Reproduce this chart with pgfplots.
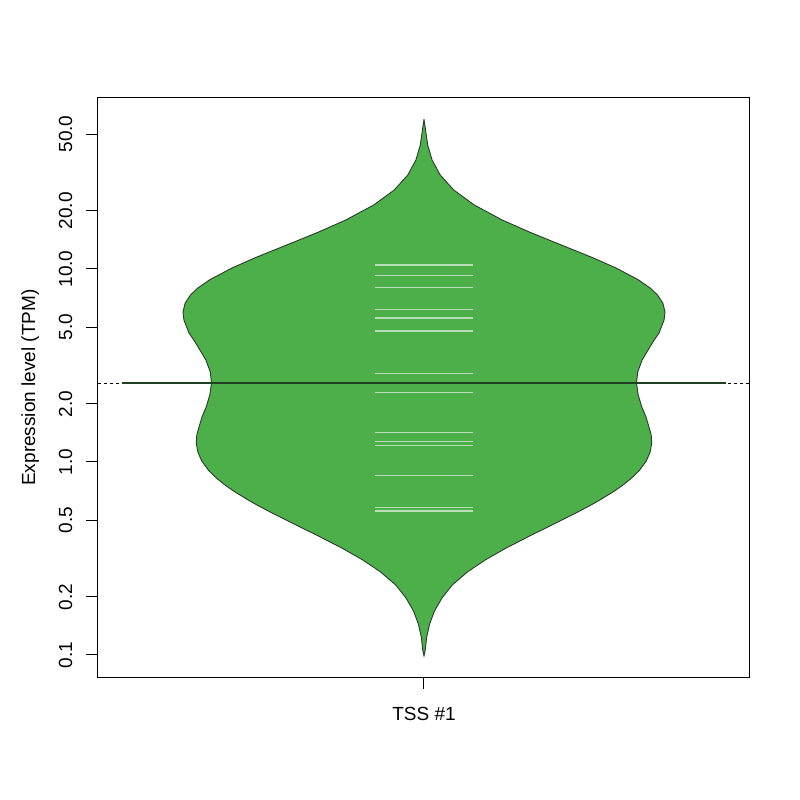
\documentclass[border=0pt]{standalone}
\usepackage{fontspec}
\setmainfont{Liberation Sans}
\usepackage{pgfplots}
\usepackage{pgfplotstable}
\pgfplotsset{compat=1.18}

\definecolor{beangreen}{RGB}{77,175,74}
\definecolor{beanborder}{RGB}{40,60,40}
\definecolor{meanline}{RGB}{30,65,30}

% bean outline: value (TPM), half width (x units), side
% right side top -> bottom, then left side bottom -> top
\pgfplotstableread{
v w s
59.65 0 1
52.51 0.0026 1
43.90 0.0061 1
36.71 0.0134 1
30.69 0.0268 1
25.67 0.0492 1
21.46 0.0832 1
17.94 0.1295 1
15.55 0.1744 1
13.63 0.2192 1
12.54 0.2481 1
11.40 0.2806 1
10.12 0.3180 1
8.770 0.3555 1
7.973 0.3745 1
7.333 0.3868 1
6.665 0.3956 1
5.986 0.3992 1
5.441 0.3977 1
4.659 0.3893 1
4.186 0.3792 1
3.760 0.3702 1
3.377 0.3613 1
2.926 0.3540 1
2.567 0.3520 1
2.224 0.3548 1
1.928 0.3608 1
1.711 0.3677 1
1.518 0.3727 1
1.380 0.3764 1
1.254 0.3772 1
1.127 0.3747 1
1.012 0.3682 1
0.9089 0.3573 1
0.8264 0.3440 1
0.7601 0.3298 1
0.7075 0.3156 1
0.6355 0.2914 1
0.5916 0.2737 1
0.5508 0.2549 1
0.5127 0.2352 1
0.4830 0.2187 1
0.4183 0.1782 1
0.3584 0.1362 1
0.3106 0.1014 1
0.2692 0.0719 1
0.2306 0.0469 1
0.1974 0.0298 1
0.1690 0.0174 1
0.1447 0.0093 1
0.1240 0.0045 1
0.1061 0.0021 1
0.0988 0 1
0.1061 0.0021 -1
0.1240 0.0045 -1
0.1447 0.0093 -1
0.1690 0.0174 -1
0.1974 0.0298 -1
0.2306 0.0469 -1
0.2692 0.0719 -1
0.3106 0.1014 -1
0.3584 0.1362 -1
0.4183 0.1782 -1
0.4830 0.2187 -1
0.5127 0.2352 -1
0.5508 0.2549 -1
0.5916 0.2737 -1
0.6355 0.2914 -1
0.7075 0.3156 -1
0.7601 0.3298 -1
0.8264 0.3440 -1
0.9089 0.3573 -1
1.012 0.3682 -1
1.127 0.3747 -1
1.254 0.3772 -1
1.380 0.3764 -1
1.518 0.3727 -1
1.711 0.3677 -1
1.928 0.3608 -1
2.224 0.3548 -1
2.567 0.3520 -1
2.926 0.3540 -1
3.377 0.3613 -1
3.760 0.3702 -1
4.186 0.3792 -1
4.659 0.3893 -1
5.441 0.3977 -1
5.986 0.3992 -1
6.665 0.3956 -1
7.333 0.3868 -1
7.973 0.3745 -1
8.770 0.3555 -1
10.12 0.3180 -1
11.40 0.2806 -1
12.54 0.2481 -1
13.63 0.2192 -1
15.55 0.1744 -1
17.94 0.1295 -1
21.46 0.0832 -1
25.67 0.0492 -1
30.69 0.0268 -1
36.71 0.0134 -1
43.90 0.0061 -1
52.51 0.0026 -1
59.65 0 -1
}\violin

% observations (bean lines)
\pgfplotstableread{
v
10.49
9.23
8.04
6.18
5.57
4.77
2.87
2.29
1.419
1.280
1.220
0.849
0.582
0.557
}\tpm

\begin{document}
\fontsize{9.5}{11}\selectfont
\begin{tikzpicture}
\begin{axis}[
  scale only axis,
  width=326pt, height=289.5pt,
  xmin=0.46, xmax=1.54,
  ymode=log, ymin=0.0769, ymax=76.9,
  xtick={1}, xticklabels={TSS \#1},
  ytick={0.1,0.2,0.5,1,2,5,10,20,50},
  yticklabels={0.1,0.2,0.5,1.0,2.0,5.0,10.0,20.0,50.0},
  yminorticks=false,
  tick align=outside, tick pos=left,
  major tick length=6pt,
  tick style={black, line width=0.5pt},
  axis line style={line width=0.5pt},
  yticklabel style={rotate=90, anchor=base, inner sep=0pt},
  yticklabel shift=7pt,
  xticklabel style={anchor=north, inner sep=0pt},
  xticklabel shift=9pt,
  ylabel={Expression level (TPM)},
  ylabel style={at={(axis description cs:-0.0966,0.5)}, anchor=base, inner sep=0pt},
]
\addplot[fill=beangreen, draw=beanborder, line width=0.45pt]
  table[x expr=1+\thisrow{s}*\thisrow{w}, y=v] {\violin};

\addplot[black, line width=0.5pt, dash pattern=on 1.5pt off 1.5pt] coordinates {(0.46,2.565) (1.54,2.565)};

\addplot[draw=none, no marks, error bars/.cd, x dir=both, x fixed=0.081, error mark=none,
  error bar style={draw=white, opacity=0.6, line width=0.55pt}] table[x expr=1, y=v] {\tpm};

\addplot[meanline, line width=1.15pt] coordinates {(0.5,2.565) (1.5,2.565)};
\end{axis}
\path (-49pt,-61.5pt) rectangle (351pt,338.5pt);
\end{tikzpicture}
\end{document}
